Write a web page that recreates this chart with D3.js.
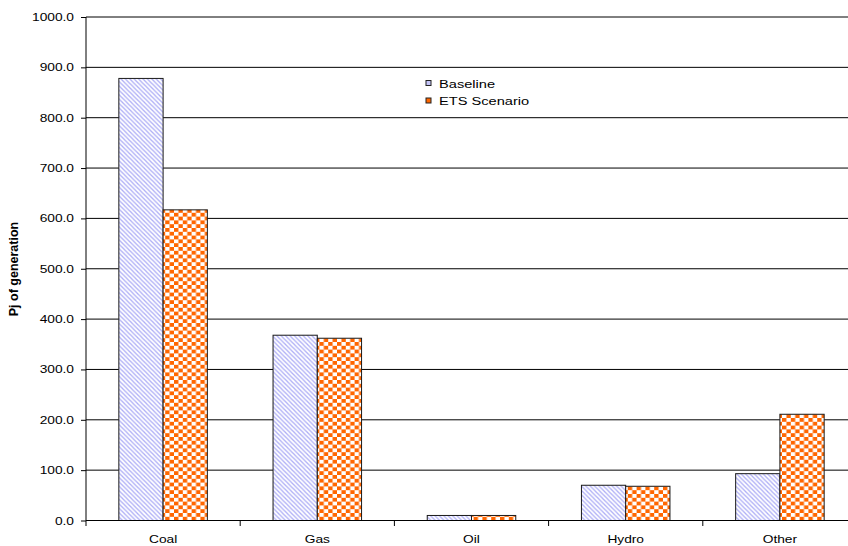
<!DOCTYPE html>
<html>
<head>
<meta charset="utf-8">
<script src="https://cdn.jsdelivr.net/npm/d3@7/dist/d3.min.js"></script>
<style>
  html, body { margin: 0; padding: 0; background: #fff; }
  svg { display: block; }
  text { font-family: "Liberation Sans", Arial, sans-serif; fill: #000; }
</style>
</head>
<body>
<svg id="chart" width="848" height="546"></svg>
<script>
// Power generation by fuel type, Pj
const categories = ["Coal", "Gas", "Oil", "Hydro", "Other"];
const seriesNames = ["Baseline", "ETS Scenario"];
const baseline = [878, 368, 10, 70, 93];
const etsScenario = [617, 362, 10, 68, 211];
const yTicks = [0, 100, 200, 300, 400, 500, 600, 700, 800, 900, 1000];

const svg = d3.select("#chart");
const plotLeft = 86, plotRight = 857, plotTop = 17, plotBottom = 520.5;
const stretch = 1.25; // horizontal widening of the label typeface

const x = d3.scaleBand().domain(categories).range([plotLeft, plotRight]).padding(0);
const inner = d3.scaleBand().domain(seriesNames)
  .range([x.bandwidth() * 0.213, x.bandwidth() * 0.787]).padding(0);
const y = d3.scaleLinear().domain([0, 1000]).range([plotBottom, plotTop]);

// Fill patterns
const defs = svg.append("defs");
const stripes = defs.append("pattern").attr("id", "stripes")
  .attr("patternUnits", "userSpaceOnUse").attr("width", 4.4).attr("height", 4.4);
stripes.append("rect").attr("width", 4.4).attr("height", 4.4).attr("fill", "#fff");
stripes.append("path").attr("d", "M-1,-1 L5.4,5.4 M-1,3.4 L1,5.4 M3.4,-1 L5.4,1")
  .attr("stroke", "#aeaef6").attr("stroke-width", 1.3);

const checks = defs.append("pattern").attr("id", "checks")
  .attr("patternUnits", "userSpaceOnUse").attr("width", 8.8).attr("height", 7.6);
checks.append("rect").attr("width", 8.8).attr("height", 7.6).attr("fill", "#fff");
checks.append("rect").attr("width", 4.4).attr("height", 3.8).attr("fill", "#ff6600");
checks.append("rect").attr("x", 4.4).attr("y", 3.8).attr("width", 4.4).attr("height", 3.8).attr("fill", "#ff6600");

const fills = { "Baseline": "url(#stripes)", "ETS Scenario": "url(#checks)" };
const legendFills = { "Baseline": "#c4c4f8", "ETS Scenario": "#ff6600" };

// Gridlines
svg.append("g").selectAll("line").data(yTicks.filter(d => d > 0)).join("line")
  .attr("x1", plotLeft).attr("x2", plotRight)
  .attr("y1", d => y(d)).attr("y2", d => y(d))
  .attr("stroke", "#000").attr("stroke-width", 1);

// Bars
const rows = categories.map((c, i) => ({ cat: c, values: [
  { name: "Baseline", value: baseline[i] },
  { name: "ETS Scenario", value: etsScenario[i] }
]}));

svg.append("g").selectAll("g").data(rows).join("g")
  .attr("transform", d => `translate(${x(d.cat)},0)`)
  .selectAll("rect").data(d => d.values).join("rect")
  .attr("x", d => inner(d.name))
  .attr("width", inner.bandwidth())
  .attr("y", d => y(d.value))
  .attr("height", d => y(0) - y(d.value))
  .attr("fill", d => fills[d.name])
  .attr("stroke", "#1a1a1a").attr("stroke-width", 1);

// Y axis
const yAxis = svg.append("g").attr("transform", `translate(${plotLeft},0)`)
  .call(d3.axisLeft(y).tickValues(yTicks).tickSize(5).tickPadding(0)
    .tickFormat(d3.format(".1f")));
yAxis.select(".domain").remove();
yAxis.selectAll(".tick line").attr("stroke", "#000");
yAxis.selectAll(".tick text")
  .attr("x", -12 / stretch)
  .attr("transform", `scale(${stretch},1)`)
  .style("font-size", "11px");
svg.append("line").attr("x1", plotLeft).attr("x2", plotLeft)
  .attr("y1", plotTop).attr("y2", plotBottom + 5.5)
  .attr("stroke", "#000");

// X axis
svg.append("line").attr("x1", plotLeft).attr("x2", plotRight)
  .attr("y1", plotBottom).attr("y2", plotBottom)
  .attr("stroke", "#000");
svg.append("g").selectAll("line").data(categories).join("line")
  .attr("x1", d => x(d) + x.bandwidth()).attr("x2", d => x(d) + x.bandwidth())
  .attr("y1", plotBottom).attr("y2", plotBottom + 5.5)
  .attr("stroke", "#000");
const xAxis = svg.append("g").attr("transform", `translate(0,${plotBottom})`)
  .call(d3.axisBottom(x).tickSize(0).tickPadding(14.5));
xAxis.select(".domain").remove();
xAxis.selectAll(".tick text")
  .attr("transform", `scale(${stretch},1)`)
  .style("font-size", "11px");

// Y axis title
svg.append("text")
  .attr("transform", "translate(18,269) rotate(-90)")
  .attr("text-anchor", "middle")
  .style("font-size", "12.5px").style("font-weight", "bold")
  .text("Pj of generation");

// Legend
const legend = svg.append("g");
const legendRows = [
  { name: "Baseline", y: 83.5 },
  { name: "ETS Scenario", y: 101 }
];
legendRows.forEach(r => {
  legend.append("rect")
    .attr("x", 426).attr("y", r.y - 3).attr("width", 5).attr("height", 5)
    .attr("fill", legendFills[r.name]).attr("stroke", "#222").attr("stroke-width", 1);
  legend.append("text")
    .attr("transform", `translate(439,${r.y + 4}) scale(${stretch},1)`)
    .style("font-size", "11.7px")
    .text(r.name);
});
</script>
</body>
</html>
